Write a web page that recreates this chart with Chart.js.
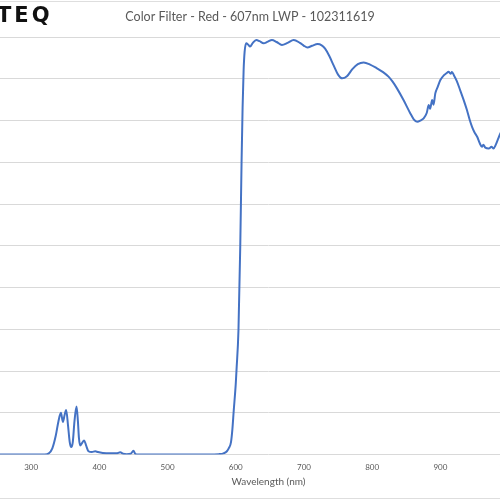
<!DOCTYPE html>
<html>
<head>
<meta charset="utf-8">
<script src="https://cdn.jsdelivr.net/npm/chart.js@4"></script>
<style>
  html, body { margin: 0; padding: 0; width: 500px; height: 500px; overflow: hidden; background: #fff; }
  #wrap { position: absolute; left: -74px; top: 0; width: 648px; height: 500px; }
  #frame { position: absolute; left: 0; top: 1px; width: 500px; height: 496px; border-top: 1px solid #dedede; border-bottom: 1px solid #dedede; pointer-events: none; }
  #logo { position: absolute; left: -3px; top: 3px; font: bold 21px "DejaVu Sans", sans-serif; letter-spacing: 3px; color: #111; }
</style>
</head>
<body>
<div id="frame"></div>
<div id="wrap"><canvas id="specChart"></canvas></div>
<div id="logo">TEQ</div>
<script>
// wavelength (nm) and transmission (%)
const wavelengths = [
  250, 300, 320, 326, 331, 336, 340, 343.6, 346.5, 349, 351.3, 354, 356.5, 358.7,
  361, 363.5, 366.5, 368.5, 370, 371.9, 374, 377.7, 380.5, 384, 389, 394, 398,
  405, 415, 425, 430.6, 435, 440, 446, 450, 452.5, 456, 500, 560, 575, 582, 587,
  590, 593, 595, 597, 600, 601, 604, 606.6, 608.5, 610, 611.5, 613, 615.4, 618,
  621, 625, 630, 635, 640.8, 647, 653, 660, 667.7, 676, 685, 694, 700, 705, 712,
  720, 726, 731, 737, 743.5, 750, 756, 763, 771, 779, 787.5, 797, 807, 816, 824,
  830, 836.4, 846, 856, 861, 866, 871, 875.5, 880, 883, 885, 888, 890, 892.6,
  896, 900, 905, 909, 912, 915, 917, 920, 924, 929, 934, 939, 943, 946.5, 950,
  954, 958, 961, 963, 966, 971, 975, 978, 981, 984, 988, 992, 995
];
const transmission = [
  0, 0, 0, 0.3, 1.5, 4.5, 8, 10.0, 7.8, 9.5, 10.7, 7, 3, 1.8,
  3, 8, 11.5, 8, 4, 2.2, 2.6, 3.4, 2.2, 0.8, 0.6, 0.8, 0.6,
  0.4, 0.3, 0.3, 0.55, 0.2, 0.1, 0.2, 0.9, 0.2, 0, 0, 0, 0.1, 0.3, 0.8,
  1.6, 3, 6, 10.5, 17, 20, 30, 50, 70, 83, 92, 96.5, 98.5, 98.2,
  97.7, 98.6, 99.3, 99, 98.5, 98.9, 99.3, 98.8, 98.1, 98.6, 99.3, 98.6, 97.9, 97.5, 97.9,
  98.3, 98, 97.2, 95.5, 93.2, 91, 90.1, 90.6, 92.3, 93.5, 93.9, 93.4, 92.5, 91.6, 90.5,
  89.3, 87.7, 84.9, 81.7, 80.3, 79.7, 80, 80.5, 81.8, 83.7, 82.8, 84.9, 83.8, 86.5,
  88, 89.7, 90.8, 91.3, 91.7, 91.2, 91.6, 90.8, 89.5, 87.3, 85, 82.5, 80.2, 78.5, 77.2,
  76.1, 74.5, 73.7, 74.2, 73.5, 73.3, 73.7, 73.3, 74.1, 75.3, 76.9, 78, 78.5
];
const xTicks = [200, 300, 400, 500, 600, 700, 800, 900, 1000];
const yTicks = [0, 10, 20, 30, 40, 50, 60, 70, 80, 90, 100];

const points = wavelengths.map((w, i) => ({ x: w, y: transmission[i] }));

const ctx = document.getElementById('specChart').getContext('2d');
new Chart(ctx, {
  type: 'line',
  data: {
    datasets: [
      {
        data: points,
        borderColor: '#4472C4',
        borderWidth: 2,
        pointRadius: 0,
        cubicInterpolationMode: 'monotone',
        fill: false,
      },
    ],
  },
  options: {
    responsive: true,
    maintainAspectRatio: false,
    animation: false,
    layout: { padding: 0 },
    plugins: {
      legend: { display: false },
      tooltip: { enabled: false },
      title: {
        display: true,
        text: 'Color Filter - Red - 607nm LWP - 102311619',
        color: '#595959',
        font: { family: 'Lato', size: 12.5, weight: 'normal' },
        padding: { top: 9.5, bottom: 12.5 },
      },
    },
    scales: {
      x: {
        type: 'linear',
        min: 200,
        max: 1096,
        grid: { display: false, drawTicks: false },
        border: { display: false },
        afterBuildTicks: (s) => {
          s.ticks = xTicks.map((v) => ({ value: v }));
        },
        ticks: {
          autoSkip: false,
          maxRotation: 0,
          padding: 8,
          color: '#595959',
          font: { family: 'Lato', size: 8 },
          callback: (v) => String(v),
        },
        title: {
          display: true,
          text: 'Wavelength (nm)',
          color: '#595959',
          font: { family: 'Lato', size: 10 },
          padding: { top: -4.5, bottom: 12.3 },
        },
      },
      y: {
        min: 0,
        max: 100,
        afterBuildTicks: (s) => {
          s.ticks = yTicks.map((v) => ({ value: v }));
        },
        afterFit: (s) => {
          s.width = 37; // pushes plot centre right of title centre
        },
        ticks: { display: false },
        grid: { color: '#d9d9d9', lineWidth: 1, drawTicks: false },
        border: { display: false },
      },
    },
  },
});
</script>
</body>
</html>
